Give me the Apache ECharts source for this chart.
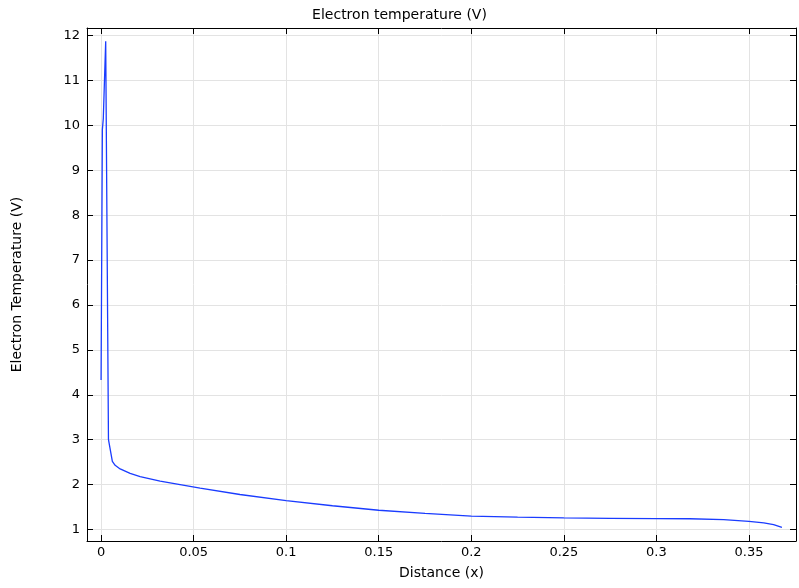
<!DOCTYPE html>
<html>
<head>
<meta charset="utf-8">
<script src="https://cdn.jsdelivr.net/npm/echarts@6/dist/echarts.min.js"></script>
<style>html,body{margin:0;padding:0;background:#fff;}#c{width:799px;height:588px;}</style>
</head>
<body>
<div id="c"></div>
<script>
const chartTitle = 'Electron temperature (V)';
const xName = 'Distance (x)';
const yName = 'Electron Temperature (V)';
const distance = [0, 0.0007, 0.0012, 0.0025, 0.0040, 0.0061, 0.0076, 0.0103, 0.0157, 0.0211, 0.0319, 0.0427, 0.0535, 0.075, 0.1, 0.125, 0.15, 0.175, 0.2, 0.225, 0.25, 0.275, 0.3, 0.318, 0.3363, 0.35, 0.358, 0.3633, 0.3678];
const temperature = [4.33, 9.9, 10.15, 11.87, 3.0, 2.52, 2.43, 2.35, 2.25, 2.18, 2.08, 2.0, 1.92, 1.78, 1.644, 1.53, 1.43, 1.36, 1.30, 1.275, 1.26, 1.25, 1.244, 1.24, 1.22, 1.18, 1.15, 1.11, 1.05];

const chart = echarts.init(document.getElementById('c'));
const font = 'DejaVu Sans';
const axisLine = {show: true, onZero: false, lineStyle: {color: '#000', width: 1}};
const axisTick = {show: true, inside: true, length: 6, lineStyle: {color: '#000'}};
const splitLine = {show: true, lineStyle: {color: '#e3e3e3', width: 1}};
const xMin = -0.0076, xMax = 0.3754, yMin = 0.745, yMax = 12.167;
chart.setOption({
  animation: false,
  backgroundColor: '#fff',
  title: {text: chartTitle, left: 'center', top: 3, textStyle: {fontFamily: font, fontSize: 14, fontWeight: 'normal', color: '#000'}},
  grid: {left: 87, right: 3, top: 28, bottom: 47, containLabel: false},
  xAxis: [
    {type: 'value', min: xMin, max: xMax, splitNumber: 8, axisLine, axisTick, splitLine,
      name: xName, nameLocation: 'middle', nameGap: 25, nameTextStyle: {fontFamily: font, fontSize: 14, color: '#000'},
      axisLabel: {color: '#000', fontFamily: font, fontSize: 13, margin: 5, showMinLabel: false, showMaxLabel: false}},
    {type: 'value', position: 'top', min: xMin, max: xMax, splitNumber: 8, axisLine, axisTick,
      axisLabel: {show: false}, splitLine: {show: false}}
  ],
  yAxis: [
    {type: 'value', min: yMin, max: yMax, splitNumber: 12, axisLine, axisTick, splitLine,
      name: yName, nameLocation: 'middle', nameGap: 63, nameRotate: 90, nameTextStyle: {fontFamily: font, fontSize: 14, color: '#000'},
      axisLabel: {color: '#000', fontFamily: font, fontSize: 13, margin: 7, showMinLabel: false, showMaxLabel: false}},
    {type: 'value', position: 'right', min: yMin, max: yMax, splitNumber: 12, axisLine, axisTick,
      axisLabel: {show: false}, splitLine: {show: false}}
  ],
  series: [{
    type: 'line', xAxisIndex: 0, yAxisIndex: 0, showSymbol: false, smooth: false,
    lineStyle: {color: '#1a3cff', width: 1.3},
    data: distance.map((d, i) => [d, temperature[i]])
  }]
});
</script>
</body>
</html>
